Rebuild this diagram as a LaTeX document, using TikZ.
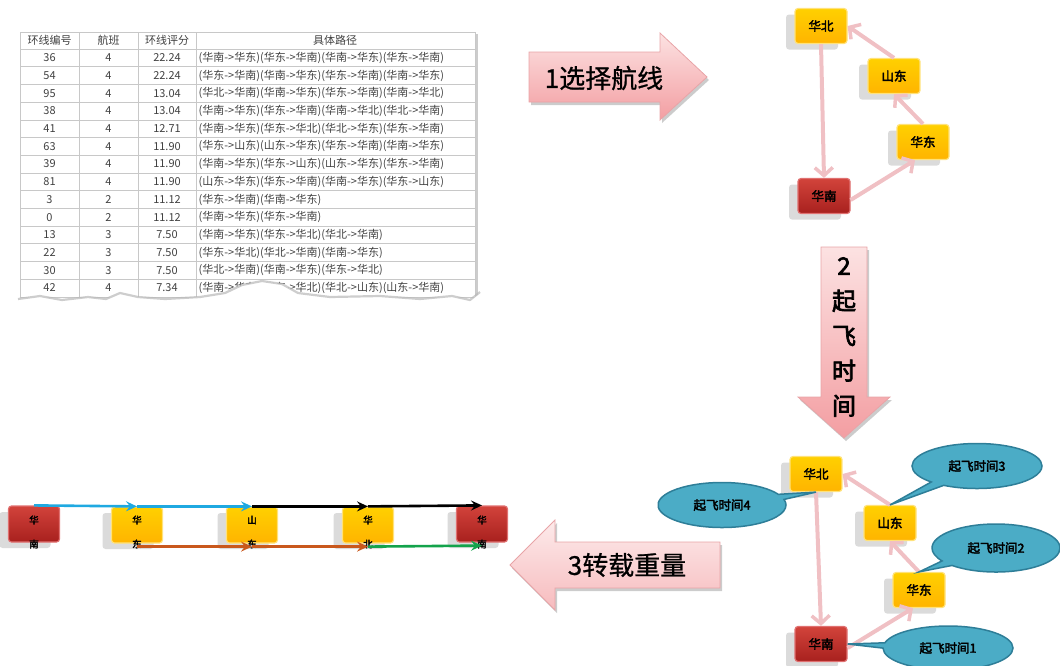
\documentclass[tikz,border=0pt]{standalone}
\usepackage{fontspec}
\setmainfont{Noto Sans CJK SC}
\newfontfamily\heavy[FakeBold=3]{Noto Sans CJK SC}
\newfontfamily\medium[FakeBold=0.8]{Noto Sans CJK SC}
\usetikzlibrary{arrows.meta,shapes.callouts,shadows,calc}
\definecolor{tabgray}{HTML}{C8C8C8}
\definecolor{tabtext}{HTML}{404040}
\definecolor{pinkline}{HTML}{F0C0C4}
\definecolor{goldT}{HTML}{FFD000}
\definecolor{goldB}{HTML}{FFB400}
\definecolor{goldE}{HTML}{FFE27A}
\definecolor{redT}{HTML}{D2433B}
\definecolor{redB}{HTML}{A8201E}
\definecolor{redE}{HTML}{E07070}
\definecolor{tealF}{HTML}{4BACC6}
\definecolor{tealE}{HTML}{2E7E98}
\definecolor{arrL}{HTML}{FCE2E2}
\definecolor{arrD}{HTML}{F39EA2}
\definecolor{arrE}{HTML}{E8A4A7}
\definecolor{cblue}{HTML}{1FA9E1}
\definecolor{corange}{HTML}{C9581C}
\definecolor{cgreen}{HTML}{13A34B}
\begin{document}
\begin{tikzpicture}[x=1pt,y=-1pt,
 tabline/.style={draw=tabgray,line width=0.6pt},
 tabtxt/.style={text=tabtext,font=\fontsize{11}{12}\selectfont,inner sep=0pt},
 gbox/.style={rounded corners=3pt,minimum width=52pt,minimum height=35pt,line width=1.2pt,
   font=\heavy\fontsize{12.5}{14}\selectfont,inner sep=0pt,
   drop shadow={shadow xshift=-9pt,shadow yshift=-6pt,opacity=0.14,fill=black}},
 ybox/.style={gbox,top color=goldT,bottom color=goldB,draw=goldE},
 rbox/.style={gbox,top color=redT,bottom color=redB,draw=redE},
 cbox/.style={minimum width=51pt,minimum height=36pt},
 chaintxt/.style={align=center,inner sep=0pt,font=\heavy\fontsize{9.5}{24}\selectfont},
 callo/.style={ellipse callout,fill=tealF,draw=tealE,line width=1.5pt,
   font=\heavy\fontsize{12.5}{14}\selectfont,minimum width=128pt,minimum height=45pt,
   inner sep=0pt,callout pointer arc=14},
 conn/.style={draw=pinkline,line width=4pt,
   -{Straight Barb[length=8pt,width=18pt,line width=3.5pt]}},
 carr/.style={line width=2.6pt,-{Stealth[length=11pt,width=10pt,inset=4pt]}},
 bigarr/.style={top color=arrL,bottom color=arrD,draw=arrE,line width=0.8pt,
   drop shadow={shadow xshift=2pt,shadow yshift=-3pt,opacity=0.2,fill=black}},
 arrtxt/.style={font=\medium\fontsize{26}{30}\selectfont,inner sep=0pt}
]
\useasboundingbox (0,0) rectangle (1060,665);

% ---------------- table ----------------
\draw[gray!40,line width=2pt] (477,34) -- (477,296);
\draw[tabline] (20,32) -- (475,32);
\draw[tabline] (20,49) -- (475,49);
\foreach \i in {1,...,14}{
  \draw[tabline] (20,{49+17.7*\i}) -- (475,{49+17.7*\i});
}
\foreach \xx in {20,79,138,196,475}{
  \draw[tabline] (\xx,32) -- (\xx,300);
}
\node[tabtxt] (h1) at (49.5,40.5) {环线编号};
\node[tabtxt] (h2) at (108.5,40.5) {航班};
\node[tabtxt] (h3) at (167,40.5) {环线评分};
\node[tabtxt] (h4) at (335,40.5) {具体路径};
\foreach \id/\fl/\sc/\p [count=\i] in {
 36/4/22.24/{(华南->华东)(华东->华南)(华南->华东)(华东->华南)},
 54/4/22.24/{(华东->华南)(华南->华东)(华东->华南)(华南->华东)},
 95/4/13.04/{(华北->华南)(华南->华东)(华东->华南)(华南->华北)},
 38/4/13.04/{(华南->华东)(华东->华南)(华南->华北)(华北->华南)},
 41/4/12.71/{(华南->华东)(华东->华北)(华北->华东)(华东->华南)},
 63/4/11.90/{(华东->山东)(山东->华东)(华东->华南)(华南->华东)},
 39/4/11.90/{(华南->华东)(华东->山东)(山东->华东)(华东->华南)},
 81/4/11.90/{(山东->华东)(华东->华南)(华南->华东)(华东->山东)},
 3/2/11.12/{(华东->华南)(华南->华东)},
 0/2/11.12/{(华南->华东)(华东->华南)},
 13/3/7.50/{(华南->华东)(华东->华北)(华北->华南)},
 22/3/7.50/{(华东->华北)(华北->华南)(华南->华东)},
 30/3/7.50/{(华北->华南)(华南->华东)(华东->华北)},
 42/4/7.34/{(华南->华东)(华东->华北)(华北->山东)(山东->华南)}}{
  \node[tabtxt] (ra\i) at (49.5,{40.15+17.7*\i}) {\id};
  \node[tabtxt] (rb\i) at (108.5,{40.15+17.7*\i}) {\fl};
  \node[tabtxt] (rc\i) at (167,{40.15+17.7*\i}) {\sc};
  \node[tabtxt,anchor=west] (rd\i) at (198.5,{40.15+17.7*\i}) {\p};
}
% torn bottom edge
\fill[white] (14,299) -- (40,296) -- (62,300) -- (88,297) -- (106,299) -- (120,293)
  -- (138,297) -- (165,299) -- (200,297) -- (225,293) -- (242,285) -- (262,281)
  -- (282,284) -- (298,293) -- (330,297) -- (380,296) -- (420,299) -- (452,296)
  -- (470,300) -- (484,291) -- (484,318) -- (14,318) -- cycle;
\draw[gray!55,line width=2.2pt,opacity=0.7,line join=round]
  (18,299) -- (40,296) -- (62,300) -- (88,297) -- (106,299) -- (120,293)
  -- (138,297) -- (165,299) -- (200,297) -- (225,293) -- (242,285) -- (262,281)
  -- (282,284) -- (298,293) -- (330,297) -- (380,296) -- (420,299) -- (452,296)
  -- (470,300) -- (480,292);

% ---------------- big arrows ----------------
\path[bigarr] (529,52) -- (660,52) -- (660,33) -- (707,77) -- (660,120) -- (660,102)
  -- (529,102) -- cycle;
\node[arrtxt] (a1t) at (604,78) {1选择航线};

\path[bigarr] (821,247) -- (867,247) -- (867,397) -- (890,397) -- (844,438) -- (798,397)
  -- (821,397) -- cycle;
\node[arrtxt,align=center,font=\heavy\fontsize{24}{35}\selectfont] (a2t) at (844,337)
  {2\\起\\飞\\时\\间};

\path[bigarr,top color=arrL!70!white,bottom color=arrD!70!white] (720,542) -- (720,588)
  -- (555,588) -- (555,610) -- (510,565) -- (555,520) -- (555,542) -- cycle;
\node[arrtxt] (a3t) at (627,565) {3转载重量};

% ---------------- top-right graph ----------------
\node[ybox] (hb) at (821,26) {华北};
\node[ybox] (sd) at (894,76) {山东};
\node[ybox] (hd) at (923,142) {华东};
\node[rbox] (hn) at (824,196) {华南};
\draw[conn] (hb.south) -- (hn.north);
\draw[conn] ([yshift=-4pt]hn.east) -- ([xshift=-8pt]hd.south);
\draw[conn] (hd.north) -- (sd.south);
\draw[conn] (sd.north) -- (hb.east);

% ---------------- bottom-right graph ----------------
\node[ybox] (bhb) at (816,474) {华北};
\node[ybox] (bsd) at (890,523) {山东};
\node[ybox] (bhd) at (919,590) {华东};
\node[rbox] (bhn) at (821,644) {华南};
\draw[conn] (bhb.south) -- (bhn.north);
\draw[conn] ([yshift=-4pt]bhn.east) -- ([xshift=-6pt]bhd.south);
\draw[conn] (bhd.north) -- (bsd.south);
\draw[conn] (bsd.north) -- (bhb.east);
\node[callo,callout absolute pointer={(bhb.south)}] (t4) at (722,505) {起飞时间4};
\node[callo,callout absolute pointer={(bsd.north)},minimum width=130pt] (t3) at (977,466) {起飞时间3};
\node[callo,callout absolute pointer={(bhd.north)},minimum height=48pt] (t2) at (996,548) {起飞时间2};
\node[callo,callout absolute pointer={(bhn.east)},minimum width=130pt,minimum height=44pt] (t1) at (948,648) {起飞时间1};

% ---------------- bottom-left chain ----------------
\node[rbox,cbox] (c1) at (34,524) {};
\node[ybox,cbox] (c2) at (137,525) {};
\node[ybox,cbox] (c3) at (252,525) {};
\node[ybox,cbox] (c4) at (368,525) {};
\node[rbox,cbox] (c5) at (482,524) {};
\node[chaintxt] (c1t) at ($(c1)+(0,8)$) {华\\南};
\node[chaintxt] (c2t) at ($(c2)+(0,7)$) {华\\东};
\node[chaintxt] (c3t) at ($(c3)+(0,7)$) {山\\东};
\node[chaintxt] (c4t) at ($(c4)+(0,7)$) {华\\北};
\node[chaintxt] (c5t) at ($(c5)+(0,8)$) {华\\南};
\draw[carr,cblue] (c1.north) -- (c2.north);
\draw[carr,cblue] (c2.north) -- (c3.north);
\draw[carr,black] (c3.north) -- (c4.north);
\draw[carr,black] (c4.north) -- (c5.north);
\draw[carr,corange] ([yshift=-3pt]c2.south) -- ([yshift=-3pt]c3.south);
\draw[carr,corange] ([yshift=-3pt]c3.south) -- ([yshift=-3pt]c4.south);
\draw[carr,cgreen] ([yshift=-3pt]c4.south) -- ([yshift=-3pt]c5.south);
\end{tikzpicture}
\end{document}
